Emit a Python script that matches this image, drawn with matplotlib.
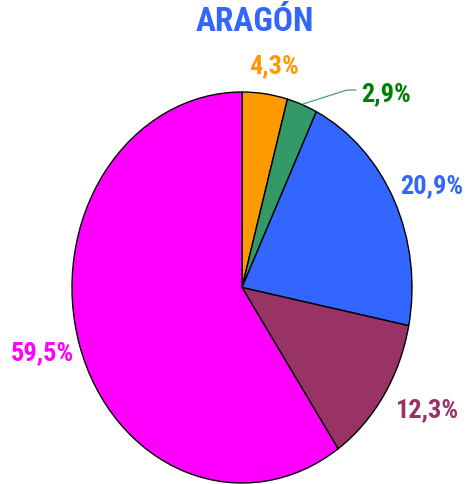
import matplotlib
matplotlib.use('Agg')
import matplotlib.pyplot as plt
from matplotlib import font_manager

# Slices, clockwise from 12 o'clock
shares = [4.3, 2.9, 20.9, 12.3, 59.5]
slice_colors = ['#FF9900', '#339966', '#3366FF', '#993366', '#FF00FF']
label_colors = ['#FF9900', '#008000', '#3366FF', '#993366', '#FF00FF']
title = 'ARAGÓN'

W, H = 469, 485
fig = plt.figure(figsize=(W / 100, H / 100), dpi=100)
fig.patch.set_facecolor('white')

# pie box in pixels (left, top, right, bottom) - pie is a bit taller than wide
px0, py0, px1, py1 = 72, 93, 412, 484
ax = fig.add_axes([px0 / W, 1 - py1 / H, (px1 - px0) / W, (py1 - py0) / H])
ax.pie(shares, colors=slice_colors, startangle=90, counterclock=False,
       wedgeprops=dict(edgecolor='black', linewidth=1.0))
ax.set_aspect('auto')
ax.set_xlim(-1, 1)
ax.set_ylim(-1, 1)
ax.axis('off')

# the original uses a condensed Arial-like bold; use one if it is there
names = {f.name for f in font_manager.fontManager.ttflist}
narrow = [n for n in ['Liberation Sans Narrow', 'Arial Narrow', 'Roboto Condensed']
          if n in names]
if narrow:
    font = [narrow[0], 'DejaVu Sans']
    title_size, label_size = 24, 19
else:
    font = ['Liberation Sans', 'DejaVu Sans']
    title_size, label_size = 20.5, 17

fig.text(255 / W, 1 - 22 / H, title, ha='center', va='center',
         fontsize=title_size, fontweight='bold', color='#3366FF', family=font)

# label centres in pixels
label_pos = [(274, 66), (386, 94), (432, 186), (427, 410), (42, 353)]
for v, c, (x, y) in zip(shares, label_colors, label_pos):
    txt = f'{v:.1f}'.replace('.', ',') + '%'
    fig.text(x / W, 1 - y / H, txt, ha='center', va='center',
             fontsize=label_size, fontweight='bold', color=c, family=font)

# leader line for the small green slice
fig.add_artist(plt.Line2D([303 / W, 347 / W, 356 / W],
                          [1 - 105 / H, 1 - 91 / H, 1 - 91 / H],
                          color='#339966', linewidth=0.8))

plt.savefig('out.png', dpi=100)
